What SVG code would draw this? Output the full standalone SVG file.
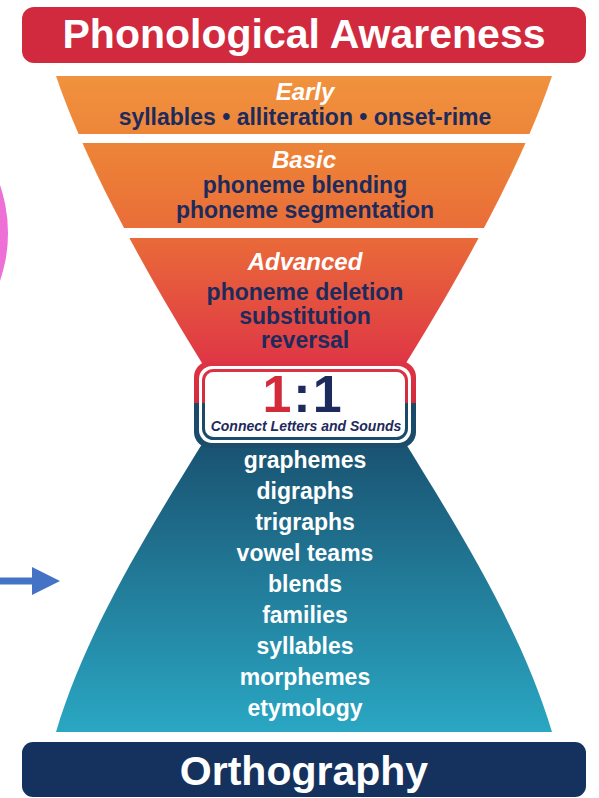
<svg xmlns="http://www.w3.org/2000/svg" width="599" height="798" viewBox="0 0 599 798">
<defs>
<style>
.t{font-family:"Liberation Sans",Arial,sans-serif;font-weight:bold;text-anchor:middle}
.nv{fill:#1D2A5C;font-size:23px}
.hd{fill:#FFFFFF;font-size:24px;font-style:italic}
.tl{fill:#FFFFFF;font-size:23px}
.ban{font-size:41px;fill:#FFFFFF}
</style>
<linearGradient id="warm" gradientUnits="userSpaceOnUse" x1="0" y1="76" x2="0" y2="372">
<stop offset="0" stop-color="#F0923E"/>
<stop offset="0.3" stop-color="#EC7F37"/>
<stop offset="0.55" stop-color="#E96A39"/>
<stop offset="1" stop-color="#DE3346"/>
</linearGradient>
<linearGradient id="teal" gradientUnits="userSpaceOnUse" x1="0" y1="436" x2="0" y2="732">
<stop offset="0" stop-color="#19506F"/>
<stop offset="1" stop-color="#2AA7C3"/>
</linearGradient>
<linearGradient id="boxSplit" gradientUnits="userSpaceOnUse" x1="0" y1="360" x2="0" y2="450">
<stop offset="0" stop-color="#DD3545"/>
<stop offset="0.48" stop-color="#D42B3C"/>
<stop offset="0.48" stop-color="#1B4968"/>
<stop offset="1" stop-color="#1B4D6C"/>
</linearGradient>
<clipPath id="topFunnel">
<path d="M56,76 L552,76 C518,176 450,292 403,368 L205,368 C158,292 90,176 56,76 Z"/>
</clipPath>
</defs>
<rect width="599" height="798" fill="#FFFFFF"/>
<circle cx="-140" cy="233" r="148" fill="#EE6FD6"/>

<g id="header">
<rect x="22" y="7" width="564" height="56" rx="12" fill="#D12A3E"/>
<text class="t ban" x="304" y="48">Phonological Awareness</text>
</g>

<g id="early">
<rect x="0" y="76" width="599" height="58" fill="url(#warm)" clip-path="url(#topFunnel)"/>
<text class="t hd" x="305" y="100">Early</text>
<text class="t nv" x="305" y="125">syllables • alliteration • onset-rime</text>
</g>

<g id="basic">
<rect x="0" y="143" width="599" height="85" fill="url(#warm)" clip-path="url(#topFunnel)"/>
<text class="t hd" x="304" y="168">Basic</text>
<text class="t nv" x="305" y="193">phoneme blending</text>
<text class="t nv" x="305" y="218">phoneme segmentation</text>
</g>

<g id="advanced">
<rect x="0" y="238" width="599" height="140" fill="url(#warm)" clip-path="url(#topFunnel)"/>
<text class="t hd" x="305" y="270">Advanced</text>
<text class="t nv" x="305" y="300">phoneme deletion</text>
<text class="t nv" x="305" y="324">substitution</text>
<text class="t nv" x="305" y="348">reversal</text>
</g>

<g id="orthography-funnel">
<path d="M207,430 L401,430 L401,436 C463,536 522,632 552,732 L56,732 C86,632 145,536 207,436 Z" fill="url(#teal)"/>
<text class="t tl" x="305" y="468">graphemes</text>
<text class="t tl" x="305" y="499">digraphs</text>
<text class="t tl" x="305" y="530">trigraphs</text>
<text class="t tl" x="305" y="561">vowel teams</text>
<text class="t tl" x="305" y="592">blends</text>
<text class="t tl" x="305" y="623">families</text>
<text class="t tl" x="305" y="654">syllables</text>
<text class="t tl" x="305" y="685">morphemes</text>
<text class="t tl" x="305" y="716">etymology</text>
</g>

<g id="one-to-one">
<rect x="194" y="361" width="222" height="87" rx="16" fill="url(#boxSplit)"/>
<rect x="199" y="366" width="212" height="77" rx="13" fill="#FFFFFF"/>
<rect x="203.5" y="370.5" width="203" height="68" rx="10" fill="#FFFFFF" stroke="url(#boxSplit)" stroke-width="3"/>
<text class="t" x="303" y="412" font-size="52" letter-spacing="2"><tspan fill="#D42B3C">1</tspan><tspan fill="#1D2A5C">:1</tspan></text>
<text class="t" x="306" y="431" font-size="14" font-style="italic" fill="#1D2A5C">Connect Letters and Sounds</text>
</g>

<g id="footer">
<rect x="22" y="742" width="564" height="55" rx="11" fill="#15325F"/>
<text class="t ban" x="304" y="785" font-size="43">Orthography</text>
</g>

<g id="connectors">
<path d="M0,577.5 L32,577.5 L32,567 L60,581 L32,595 L32,584.5 L0,584.5 Z" fill="#4472C4"/>
</g>
</svg>
